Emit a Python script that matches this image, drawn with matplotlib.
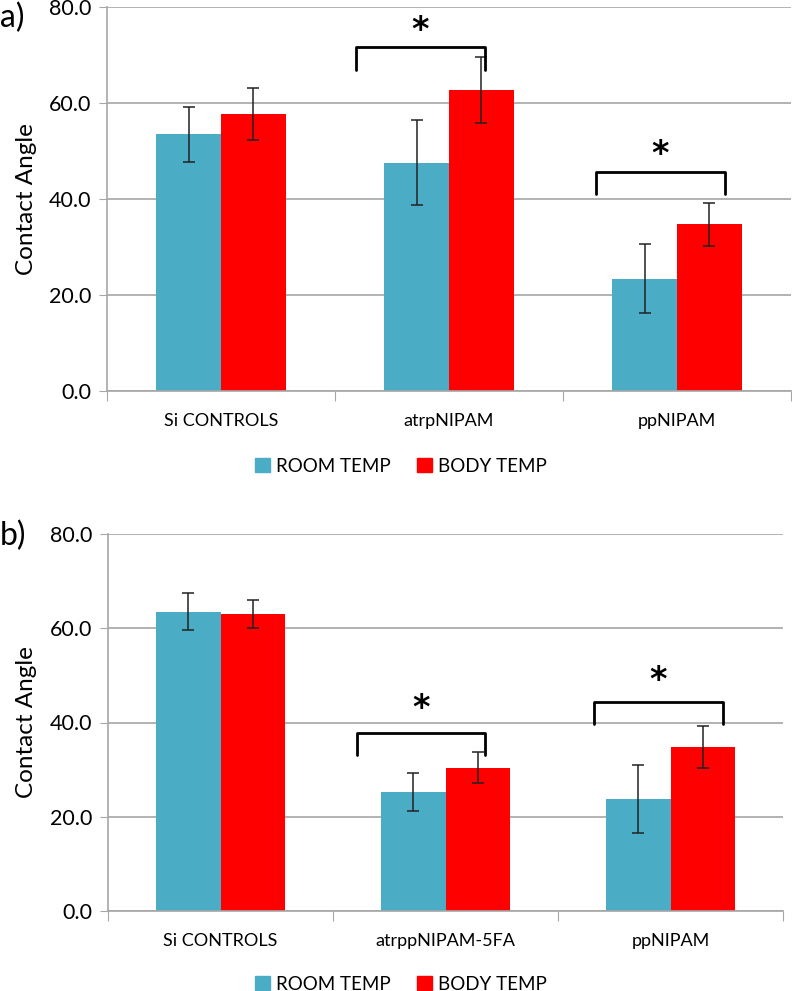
import numpy as np
import matplotlib.pyplot as plt
from matplotlib.patches import Patch

plt.rcParams['font.family'] = ['Lato', 'DejaVu Sans']

series = ["ROOM TEMP", "BODY TEMP"]
colors = ["#4BACC6", "#FF0000"]

# panel a
cats_a = ["Si CONTROLS", "atrpNIPAM", "ppNIPAM"]
room_a = [53.5, 47.6, 23.4]
room_err_a = [5.7, 8.9, 7.2]
body_a = [57.7, 62.7, 34.7]
body_err_a = [5.4, 6.8, 4.4]
# brackets: (x_left, x_right, y_low, y_high, star_y)
brackets_a = [(0.59, 1.16, 66.9, 71.7, 75.2), (1.645, 2.21, 41.0, 45.7, 49.2)]

# panel b
cats_b = ["Si CONTROLS", "atrppNIPAM-5FA", "ppNIPAM"]
room_b = [63.5, 25.2, 23.7]
room_err_b = [3.9, 4.0, 7.2]
body_b = [63.1, 30.4, 34.8]
body_err_b = [3.0, 3.3, 4.4]
brackets_b = [(0.607, 1.176, 33.1, 37.7, 43.0), (1.659, 2.232, 39.7, 44.4, 49.0)]

yticks = [0, 20, 40, 60, 80]

W, H = 792, 991
fig = plt.figure(figsize=(W / 100, H / 100), dpi=100)

grid_c = "#A6A6A6"


def panel(rect, cats, room, room_err, body, body_err, brackets):
    ax = fig.add_axes(rect)
    x = np.arange(len(cats))
    w = 0.285
    ax.bar(x - w / 2, room, w, color=colors[0], zorder=2)
    ax.bar(x + w / 2, body, w, color=colors[1], zorder=2)
    ax.errorbar(x - w / 2, room, yerr=room_err, fmt="none", ecolor="#222222",
                elinewidth=1.1, capsize=4.5, capthick=1.1, zorder=3)
    ax.errorbar(x + w / 2, body, yerr=body_err, fmt="none", ecolor="#222222",
                elinewidth=1.1, capsize=4.5, capthick=1.1, zorder=3)
    for xl, xr, ylo, yhi, sy in brackets:
        ax.plot([xl, xl, xr, xr], [ylo, yhi, yhi, ylo], color="black", lw=2,
                solid_joinstyle="round", solid_capstyle="round", zorder=4)
        ax.text((xl + xr) / 2, sy, "*", ha="center", va="center",
                fontsize=24, fontweight="bold", family="DejaVu Sans")
    ax.set_xlim(-0.5, len(cats) - 0.5)
    ax.set_ylim(0, 80)
    ax.set_yticks(yticks)
    ax.set_yticklabels(["%.1f" % v for v in yticks], fontsize=15.5)
    ax.set_xticks(np.arange(-0.5, len(cats)))
    ax.set_xticklabels([])
    ax.set_xticks(x, minor=True)
    ax.set_xticklabels(cats, minor=True, fontsize=13)
    ax.tick_params(axis="x", which="minor", length=0, pad=16)
    ax.tick_params(axis="x", which="major", length=7, color=grid_c)
    ax.tick_params(axis="y", length=6, color=grid_c, pad=5)
    ax.yaxis.grid(True, color=grid_c, lw=1.2, zorder=0)
    ax.set_axisbelow(True)
    for s in ["top", "right"]:
        ax.spines[s].set_visible(False)
    for s in ["left", "bottom"]:
        ax.spines[s].set_color(grid_c)
        ax.spines[s].set_linewidth(1.2)
    ax.set_ylabel("Contact Angle", fontsize=17.5)
    return ax


ax1 = panel([107 / W, 1 - 391 / H, 684 / W, 384 / H], cats_a, room_a, room_err_a,
            body_a, body_err_a, brackets_a)
ax2 = panel([108 / W, 1 - 911 / H, 675 / W, 377 / H], cats_b, room_b, room_err_b,
            body_b, body_err_b, brackets_b)
ax1.yaxis.set_label_coords(-70 / 684, 0.5)
ax2.yaxis.set_label_coords(-71 / 675, 0.5)

fig.text(0, 1 - 18 / H, "a)", fontsize=23, va="center", ha="left")
fig.text(0, 1 - 536 / H, "b)", fontsize=23, va="center", ha="left")

handles = [Patch(color=c, label=s) for c, s in zip(colors, series)]
for y in [466, 984]:
    fig.legend(handles=handles, loc="center", bbox_to_anchor=(401 / W, 1 - y / H),
               ncol=2, frameon=False, fontsize=13.5, handlelength=0.8,
               handleheight=0.8, handletextpad=0.3, columnspacing=1.4)

fig.savefig("out.png", dpi=100)
